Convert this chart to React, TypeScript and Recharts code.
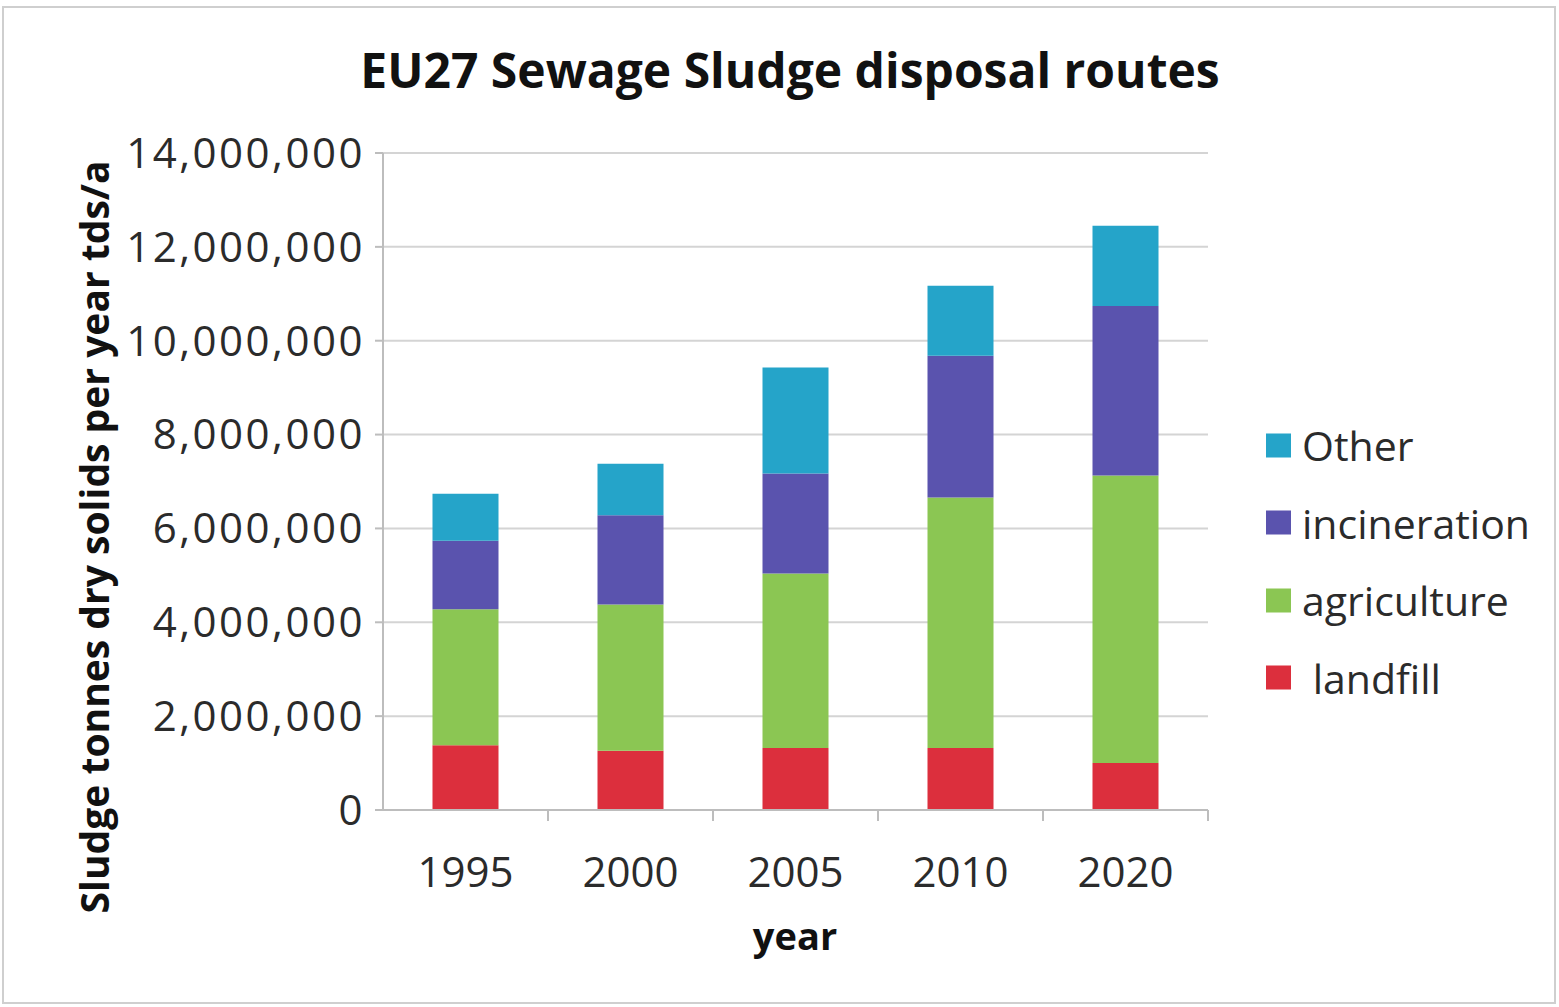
import React from "react";
import { BarChart, Bar, XAxis, YAxis, CartesianGrid } from "recharts";

// years on the x axis
const years = ["1995", "2000", "2005", "2010", "2020"];

// tonnes dry solids per year, one value per year (stacked bottom -> top)
const landfill = [1380000, 1260000, 1320000, 1320000, 1000000];
const agriculture = [2900000, 3120000, 3720000, 5340000, 6130000];
const incineration = [1460000, 1900000, 2130000, 3020000, 3610000];
const other = [1000000, 1100000, 2260000, 1490000, 1710000];

const yTicks = [0, 2000000, 4000000, 6000000, 8000000, 10000000, 12000000, 14000000];

const series = [
    { key: "landfill", label: " landfill", color: "#dc2f3d" },
    { key: "agriculture", label: "agriculture", color: "#8bc653" },
    { key: "incineration", label: "incineration", color: "#5a53ae" },
    { key: "other", label: "Other", color: "#25a4c9" },
];

const data = years.map((year, i) => ({
    year,
    landfill: landfill[i],
    agriculture: agriculture[i],
    incineration: incineration[i],
    other: other[i],
}));

const FONT = "'Open Sans', Lato, sans-serif";
const AXIS_GREY = "#bdbdbd";

// Excel style: tick marks sit between categories, label in the middle
function YearTick(props: any) {
    const { x, y, payload, index, visibleTicksCount } = props;
    const half = payload?.offset || 82.5;
    const axisY = y - 47;
    const last = index === visibleTicksCount - 1;
    return (
        <g>
            {index > 0 && <line x1={x - half} x2={x - half} y1={axisY} y2={axisY + 11} stroke={AXIS_GREY} strokeWidth={2} />}
            {last && <line x1={x + half} x2={x + half} y1={axisY} y2={axisY + 11} stroke={AXIS_GREY} strokeWidth={2} />}
            <text x={x} y={y} dy="0.71em" textAnchor="middle" fontSize={42} fontFamily={FONT} fill="#2b2b2b">
                {payload.value}
            </text>
        </g>
    );
}

export default function App() {
    return (
        <div style={{ position: "absolute", left: 0, top: 0, width: 1559, height: 1007, background: "#fff", fontFamily: FONT }}>
            <div style={{ position: "absolute", left: 2, top: 6, width: 1550, height: 994, border: "2px solid #cfcfcf" }} />

            <div style={{ position: "absolute", left: 790, top: 46, transform: "translateX(-50%)", whiteSpace: "nowrap", fontSize: 48, lineHeight: 1, fontWeight: 700, color: "#111" }}>
                EU27 Sewage Sludge disposal routes
            </div>

            <div style={{ position: "absolute", left: 93, top: 537, transform: "translate(-50%, -50%) rotate(-90deg)", whiteSpace: "nowrap", fontSize: 39, lineHeight: 1, fontWeight: 700, color: "#111" }}>
                Sludge tonnes dry solids per year tds/a
            </div>

            <div style={{ position: "absolute", left: 795, top: 916, transform: "translateX(-50%)", fontSize: 38, lineHeight: 1, fontWeight: 700, color: "#111" }}>
                year
            </div>

            <BarChart
                width={1559}
                height={1007}
                data={data}
                margin={{ top: 153, right: 351, bottom: 97, left: 0 }}
                barCategoryGap="30%"
                style={{ position: "absolute", left: 0, top: 0 }}
            >
                <CartesianGrid vertical={false} stroke="#d4d4d4" strokeWidth={2} />
                <XAxis
                    dataKey="year"
                    height={100}
                    axisLine={{ stroke: AXIS_GREY, strokeWidth: 2 }}
                    tickLine={false}
                    tickSize={0}
                    tickMargin={47}
                    tick={<YearTick />}
                    interval={0}
                />
                <YAxis
                    width={383}
                    domain={[0, 14000000]}
                    ticks={yTicks}
                    axisLine={{ stroke: AXIS_GREY, strokeWidth: 2 }}
                    tickLine={{ stroke: AXIS_GREY, strokeWidth: 2 }}
                    tickSize={8}
                    tickMargin={10}
                    tick={{ fontSize: 42, fontFamily: FONT, fill: "#2b2b2b", letterSpacing: 2.5 }}
                    tickFormatter={(v: number) => v.toLocaleString("en-US")}
                />
                {series.map((s) => (
                    <Bar key={s.key} dataKey={s.key} stackId="a" fill={s.color} isAnimationActive={false} />
                ))}
            </BarChart>

            {/* legend, top item = top of stack */}
            {[...series].reverse().map((s, i) => (
                <div key={s.key} style={{ position: "absolute", left: 1266, top: 445 + i * 77.5, transform: "translateY(-50%)", display: "flex", alignItems: "center" }}>
                    <div style={{ width: 25, height: 24, background: s.color }} />
                    <span style={{ marginLeft: 11, fontSize: 41, lineHeight: 1, color: "#2b2b2b", whiteSpace: "pre" }}>{s.label}</span>
                </div>
            ))}
        </div>
    );
}
